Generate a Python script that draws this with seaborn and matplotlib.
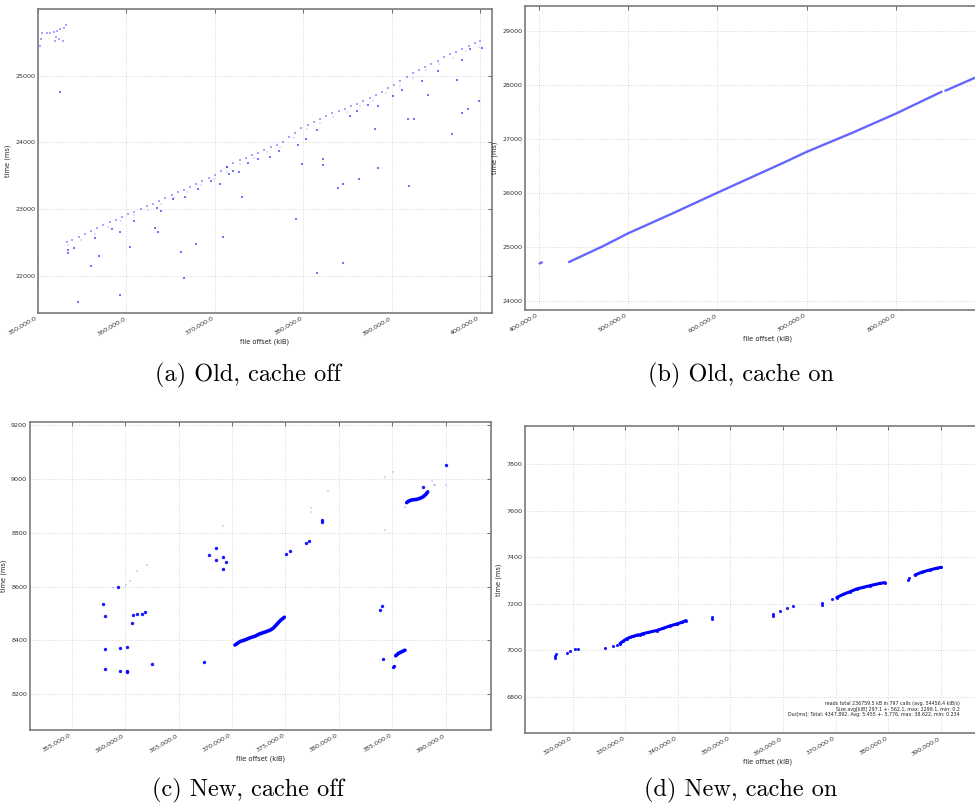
import matplotlib
matplotlib.use("Agg")
import matplotlib.pyplot as plt
from matplotlib.ticker import FuncFormatter, MultipleLocator
import seaborn as sns
import pandas as pd

# ---------------- data: (a) Old, cache off ----------------
a_band_x = [353300, 353900, 354600, 355300, 356000, 356700, 357400, 358100, 358800, 359500,
            360200, 360900, 361600, 362300, 363000, 363700, 364400, 365100, 365800, 366500,
            367200, 367900, 368600, 369300, 370000, 370700, 371400, 372100, 372800, 373500,
            374200, 374900, 375600, 376300, 377000, 377700, 378400, 379100, 379800, 380500,
            381200, 381900, 382600, 383300, 384000, 384700, 385400, 386100, 386800, 387500,
            388200, 388900, 389600, 390300, 391000, 391700, 392400, 393100, 393800, 394500,
            395200, 395900, 396600, 397300, 398000, 398700, 399400, 400000]
a_band_y = [22510, 22545, 22590, 22630, 22680, 22720, 22765, 22805, 22845, 22885,
            22925, 22965, 23005, 23045, 23085, 23125, 23170, 23210, 23255, 23295,
            23340, 23385, 23430, 23470, 23515, 23575, 23630, 23690, 23730, 23765,
            23805, 23845, 23885, 23925, 23965, 24010, 24075, 24145, 24215, 24260,
            24300, 24345, 24390, 24435, 24470, 24505, 24545, 24580, 24620, 24660,
            24710, 24760, 24810, 24865, 24920, 24975, 25035, 25085, 25130, 25180,
            25225, 25270, 25315, 25355, 25395, 25435, 25480, 25515]
a_faint_x = [353400, 354900, 356400, 357900, 359400, 360900, 362400, 363900, 365400, 366900,
             368400, 369900, 371400, 372900, 374400, 375900, 377400, 378900, 380400, 381900,
             383400, 384900, 386400, 387900, 389400, 390900, 392400, 393900, 395400, 396900,
             398400, 399900]
a_faint_y = [22460, 22540, 22630, 22740, 22830, 22915, 22995, 23080, 23170, 23260,
             23360, 23450, 23560, 23680, 23770, 23850, 23930, 24060, 24200, 24290,
             24380, 24450, 24540, 24620, 24740, 24850, 24970, 25080, 25170, 25260,
             25360, 25420]
a_top_x = [350260, 350380, 350450, 351020, 351390, 351770, 352150, 352520, 352900, 353160,
           352070, 352330, 351960, 352820]
a_top_y = [25440, 25550, 25640, 25630, 25640, 25655, 25665, 25690, 25715, 25750,
           25575, 25550, 25515, 25515]
a_out_x = [350000, 350000, 354520, 352450, 353390, 353390, 354030, 355990, 356930, 356480,
           358360, 359300, 359270, 360430, 360810, 363260, 363560, 363450, 363900, 365220,
           366200, 366570, 366500, 367850, 368150, 369550, 370600, 370980, 371620, 371360,
           372000, 372680, 373050, 373800, 374930, 376250, 377310, 379190, 379450, 379830,
           380320, 381600, 382280, 382200, 383970, 384540, 384540, 381530, 385290, 386050,
           386310, 387360, 388120, 388490, 388490, 390180, 391130, 391880, 392560, 391990,
           393390, 394140, 395270, 396780, 397340, 397910, 398660, 399870, 397910, 398850,
           400170]
a_out_y = [22275, 21860, 21615, 24755, 22340, 22390, 22415, 22155, 22300, 22565,
           22705, 22665, 21715, 22435, 22830, 22715, 22655, 23015, 22975, 23155,
           22355, 23190, 21975, 22475, 23305, 23425, 23375, 22585, 23535, 23640,
           23575, 23565, 23180, 23700, 23745, 23775, 23875, 22850, 23955, 23675,
           24050, 24185, 23665, 23750, 23325, 23375, 22195, 22055, 24390, 24475,
           23450, 24560, 24205, 23615, 24540, 24690, 24790, 24355, 24355, 23350,
           24925, 24715, 25075, 24125, 24940, 24440, 24505, 24625, 25230, 25390,
           25405]

# ---------------- data: (b) Old, cache on ----------------
b_seg1_x = [401000, 403500]
b_seg1_y = [24700, 24720]
b_seg2_x = [433900, 472300, 500000, 549900, 600000, 650000, 673900, 700000, 750000, 800000, 850700]
b_seg2_y = [24727, 25023, 25257, 25627, 26009, 26384, 26563, 26766, 27110, 27474, 27875]
b_seg3_x = [854900, 888200, 900000]
b_seg3_y = [27894, 28135, 28215]

# ---------------- data: (c) New, cache off ----------------
c_dot_x = [357960, 358120, 358120, 358120, 359340, 359520, 359520, 360150, 360150, 360150,
           360610, 360710, 361080, 361550, 361830, 362520, 367380, 367850, 368470, 368510,
           369130, 369160, 369440, 375060, 375430, 376930, 377240, 378390, 378390, 383850,
           384070, 384160, 385100, 385190, 387910, 390030]
c_dot_y = [8536, 8490, 8368, 8293, 8598, 8288, 8373, 8377, 8283, 8286,
           8463, 8494, 8499, 8499, 8504, 8312, 8321, 8716, 8742, 8699,
           8709, 8665, 8691, 8721, 8731, 8760, 8767, 8848, 8838, 8512,
           8528, 8330, 8300, 8305, 8969, 9049]
c_curve1_x = [370280, 370750, 371220, 371690, 372160, 372620, 373090, 373560, 373870, 374180, 374500, 374900]
c_curve1_y = [8383, 8396, 8402, 8410, 8416, 8425, 8431, 8438, 8446, 8459, 8473, 8486]
c_curve2_x = [386350, 386500, 386810, 387280, 387660, 387900, 388150, 388320]
c_curve2_y = [8911, 8916, 8921, 8923, 8928, 8933, 8942, 8951]
c_curve3_x = [385320, 385570, 385880, 386190]
c_curve3_y = [8343, 8352, 8358, 8364]
c_faint_x = [358900, 360090, 360460, 361080, 362020, 369190, 377370, 377370, 379010, 384320,
             384320, 385040, 386180, 388720, 388870, 389030, 390030]
c_faint_y = [8593, 8607, 8621, 8658, 8679, 8823, 8890, 8875, 8956, 8809,
             9006, 9025, 8895, 8990, 8975, 8975, 8978]

# ---------------- data: (d) New, cache on ----------------
d_x = [316700, 316700, 316830, 318860, 319490, 320440, 321080, 326150, 327740, 328370,
       329000, 329640, 330270, 330910, 331540, 332170, 332810, 333440, 334390, 335980,
       337250, 338520, 339780, 340740, 341560, 346440, 346570, 358050, 358050, 359440,
       360710, 361980, 367370, 367370, 369270, 370220, 371490, 372760, 374030, 375290,
       376560, 378460, 379410, 383850, 384040, 385120, 386390, 387970, 389240, 390070]
d_y = [6977, 6968, 6983, 6987, 6997, 7004, 7007, 7011, 7020, 7023,
       7029, 7040, 7049, 7056, 7060, 7065, 7067, 7072, 7077, 7085,
       7095, 7105, 7113, 7120, 7128, 7145, 7135, 7155, 7148, 7169,
       7181, 7191, 7202, 7196, 7219, 7227, 7241, 7252, 7264, 7271,
       7278, 7288, 7291, 7301, 7310, 7324, 7336, 7346, 7353, 7357]
d_stats = ["reads total 236759.5 kB in 797 calls (avg. 54456.4 kiB/s)",
           "Size avg[kiB] 297.1 +- 562.1, max: 2299.1, min: 0.2",
           "Dur[ms]: Total: 4347.892, Avg: 5.455 +- 5.776, max: 38.622, min: 0.234"]

captions = ["(a) Old, cache off", "(b) Old, cache on", "(c) New, cache off", "(d) New, cache on"]

# ---------------- style ----------------
sns.set_style("whitegrid", {"grid.linestyle": ":", "grid.color": "#cfcfcf",
                            "axes.edgecolor": "#7a7a7a", "axes.linewidth": 1.2})
plt.rcParams["font.family"] = ["DejaVu Sans"]

W, H = 975, 807
fig = plt.figure(figsize=(W / 100, H / 100), dpi=100)
fig.patch.set_facecolor("white")


def add_ax(left, top, right, bottom):
    return fig.add_axes([left / W, 1 - bottom / H, (right - left) / W, (bottom - top) / H])


fmt = FuncFormatter(lambda v, p: f"{v:,.1f}")


def style(ax, xlim, ylim, xstep, ystep, xmax_tick=None):
    ax.set_xlim(*xlim)
    ax.set_ylim(*ylim)
    ax.xaxis.set_major_locator(MultipleLocator(xstep))
    ax.yaxis.set_major_locator(MultipleLocator(ystep))
    if xmax_tick is not None:
        ticks = [t for t in ax.get_xticks() if xlim[0] <= t <= xmax_tick]
        ax.set_xticks(ticks)
        ax.set_xlim(*xlim)
    ax.xaxis.set_major_formatter(fmt)
    ax.yaxis.set_major_formatter(FuncFormatter(lambda v, p: f"{v:.0f}"))
    ax.grid(True, linestyle=":", color="#cfcfcf", linewidth=0.6)
    ax.tick_params(axis="both", labelsize=4.6, direction="in", length=3, width=0.5,
                   colors="#333333", top=True, right=True, pad=2)
    for lab in ax.get_xticklabels():
        lab.set_rotation(30)
        lab.set_ha("right")
    ax.set_xlabel("file offset (kiB)", fontsize=4.8, labelpad=2, color="#222222")
    ax.set_ylabel("time (ms)", fontsize=4.8, labelpad=3, color="#222222")
    for s in ax.spines.values():
        s.set_color("#7a7a7a")
        s.set_linewidth(1.2)


# (a)
ax = add_ax(38, 9, 492, 313)
sns.scatterplot(x=a_faint_x, y=a_faint_y, ax=ax, color="blue", marker="s", s=3,
                alpha=0.12, linewidth=0)
sns.scatterplot(x=a_band_x, y=a_band_y, ax=ax, color="blue", marker="s", s=4,
                alpha=0.35, linewidth=0)
sns.scatterplot(x=a_top_x, y=a_top_y, ax=ax, color="blue", marker="s", s=4,
                alpha=0.35, linewidth=0)
sns.scatterplot(x=a_out_x, y=a_out_y, ax=ax, color="blue", marker="s", s=3.5,
                alpha=0.55, linewidth=0)
style(ax, (350000, 401350), (21450, 25995), 10000, 1000)

# (b)
ax = add_ax(525, 6, 1010, 310)
for sx, sy in [(b_seg1_x, b_seg1_y), (b_seg2_x, b_seg2_y), (b_seg3_x, b_seg3_y)]:
    sns.lineplot(x=sx, y=sy, ax=ax, color="#4040ff", linewidth=1.7, alpha=0.8,
                 sort=False, estimator=None)
style(ax, (384700, 927200), (23840, 29460), 100000, 1000, xmax_tick=860000)
ax.spines["right"].set_visible(False)

# (c)
ax = add_ax(30, 422, 491, 730)
sns.scatterplot(x=c_faint_x, y=c_faint_y, ax=ax, color="blue", marker="s", s=3,
                alpha=0.15, linewidth=0)
for sx, sy in [(c_curve1_x, c_curve1_y), (c_curve2_x, c_curve2_y), (c_curve3_x, c_curve3_y)]:
    sns.lineplot(x=sx, y=sy, ax=ax, color="blue", linewidth=2.6, sort=False, estimator=None)
sns.scatterplot(x=c_dot_x, y=c_dot_y, ax=ax, color="blue", marker="o", s=6,
                alpha=0.9, linewidth=0)
style(ax, (351100, 394240), (8068, 9210), 5000, 200)

# (d)
ax = add_ax(525, 426, 1010, 733)
sns.lineplot(x=d_x[10:25], y=d_y[10:25], ax=ax, color="blue", linewidth=2.2,
             sort=False, estimator=None)
sns.lineplot(x=d_x[35:43], y=d_y[35:43], ax=ax, color="blue", linewidth=2.2,
             sort=False, estimator=None)
sns.lineplot(x=d_x[45:50], y=d_y[45:50], ax=ax, color="blue", linewidth=2.2,
             sort=False, estimator=None)
sns.scatterplot(x=d_x, y=d_y, ax=ax, color="blue", marker="o", s=5, alpha=0.9, linewidth=0)
style(ax, (310930, 403180), (6644, 7965), 10000, 200, xmax_tick=392000)
ax.spines["right"].set_visible(False)
for i, line in enumerate(d_stats):
    fig.text(960 / W, 1 - (704 + i * 5.3) / H, line, ha="right", va="center",
             fontsize=3.4, color="#222222")

# captions
cap_pos = [(248, 375), (741, 375), (248, 790), (741, 790)]
for (cx, cy), t in zip(cap_pos, captions):
    fig.text(cx / W, 1 - cy / H, t, ha="center", va="center", fontsize=17.5,
             family="cmr10", color="black")

fig.savefig("out.png", dpi=100, facecolor="white")
